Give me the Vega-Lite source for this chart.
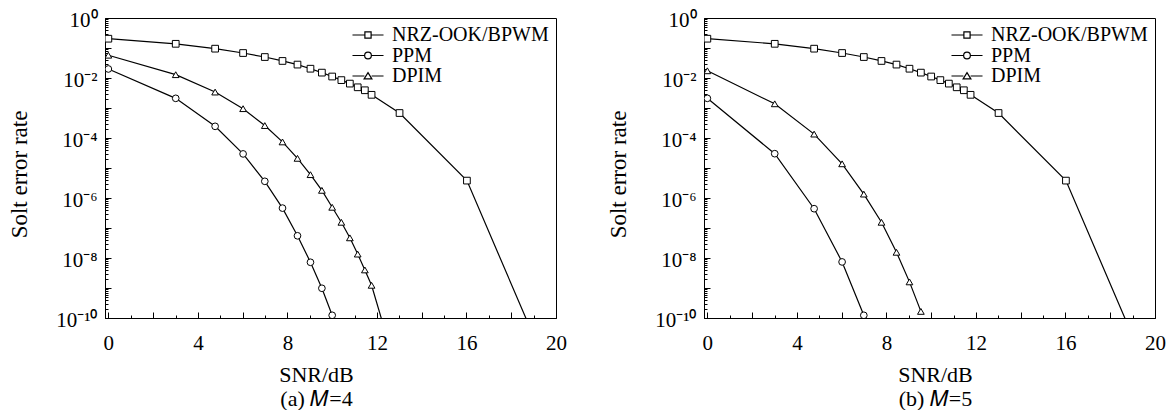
{
  "$schema": "https://vega.github.io/schema/vega-lite/v6.json",
  "padding": {"left": 7, "top": 8, "right": 0, "bottom": 0},
  "spacing": 39,
  "config": {
    "font": "Liberation Serif",
    "view": {"stroke": "black", "strokeWidth": 1},
    "axis": {
      "labelFont": "Liberation Serif", "titleFont": "Liberation Serif",
      "labelColor": "black", "titleColor": "black", "domainColor": "black",
      "tickColor": "black", "grid": false, "titleFontWeight": "normal",
      "labelFontSize": 21, "titleFontSize": 22, "labelOverlap": false, "labelBound": false,
      "labelFlush": false
    },
    "legend": {"labelFont": "Liberation Serif"}
  },
  "datasets": {
    "a": [
      {"s": "NRZ-OOK/BPWM", "x": 0, "y": 0.204},
      {"s": "NRZ-OOK/BPWM", "x": 3.01, "y": 0.138},
      {"s": "NRZ-OOK/BPWM", "x": 4.77, "y": 0.095},
      {"s": "NRZ-OOK/BPWM", "x": 6.02, "y": 0.068},
      {"s": "NRZ-OOK/BPWM", "x": 6.99, "y": 0.05},
      {"s": "NRZ-OOK/BPWM", "x": 7.78, "y": 0.037},
      {"s": "NRZ-OOK/BPWM", "x": 8.45, "y": 0.028},
      {"s": "NRZ-OOK/BPWM", "x": 9.03, "y": 0.0204},
      {"s": "NRZ-OOK/BPWM", "x": 9.54, "y": 0.0151},
      {"s": "NRZ-OOK/BPWM", "x": 10, "y": 0.0112},
      {"s": "NRZ-OOK/BPWM", "x": 10.41, "y": 0.0085},
      {"s": "NRZ-OOK/BPWM", "x": 10.79, "y": 0.0065},
      {"s": "NRZ-OOK/BPWM", "x": 11.14, "y": 0.0049},
      {"s": "NRZ-OOK/BPWM", "x": 11.46, "y": 0.0039},
      {"s": "NRZ-OOK/BPWM", "x": 11.76, "y": 0.00275},
      {"s": "NRZ-OOK/BPWM", "x": 13.01, "y": 0.00068},
      {"s": "NRZ-OOK/BPWM", "x": 16.02, "y": 3.8e-6},
      {"s": "NRZ-OOK/BPWM", "x": 19.03, "y": 2.2e-11},
      {"s": "PPM", "x": 0, "y": 0.02},
      {"s": "PPM", "x": 3.01, "y": 0.0021},
      {"s": "PPM", "x": 4.77, "y": 2.45e-4},
      {"s": "PPM", "x": 6.02, "y": 2.95e-5},
      {"s": "PPM", "x": 6.99, "y": 3.6e-6},
      {"s": "PPM", "x": 7.78, "y": 4.6e-7},
      {"s": "PPM", "x": 8.45, "y": 5.5e-8},
      {"s": "PPM", "x": 9.03, "y": 7.2e-9},
      {"s": "PPM", "x": 9.54, "y": 9.8e-10},
      {"s": "PPM", "x": 10, "y": 1.23e-10},
      {"s": "DPIM", "x": 0, "y": 0.0575},
      {"s": "DPIM", "x": 3.01, "y": 0.0129},
      {"s": "DPIM", "x": 4.77, "y": 0.0034},
      {"s": "DPIM", "x": 6.02, "y": 9.5e-4},
      {"s": "DPIM", "x": 6.99, "y": 2.6e-4},
      {"s": "DPIM", "x": 7.78, "y": 7.4e-5},
      {"s": "DPIM", "x": 8.45, "y": 2.1e-5},
      {"s": "DPIM", "x": 9.03, "y": 6.0e-6},
      {"s": "DPIM", "x": 9.54, "y": 1.8e-6},
      {"s": "DPIM", "x": 10, "y": 4.9e-7},
      {"s": "DPIM", "x": 10.41, "y": 1.55e-7},
      {"s": "DPIM", "x": 10.79, "y": 4.7e-8},
      {"s": "DPIM", "x": 11.14, "y": 1.35e-8},
      {"s": "DPIM", "x": 11.46, "y": 4.0e-9},
      {"s": "DPIM", "x": 11.76, "y": 1.23e-9},
      {"s": "DPIM", "x": 13.01, "y": 8.5e-13}
    ],
    "b": [
      {"s": "NRZ-OOK/BPWM", "x": 0, "y": 0.204},
      {"s": "NRZ-OOK/BPWM", "x": 3.01, "y": 0.138},
      {"s": "NRZ-OOK/BPWM", "x": 4.77, "y": 0.095},
      {"s": "NRZ-OOK/BPWM", "x": 6.02, "y": 0.068},
      {"s": "NRZ-OOK/BPWM", "x": 6.99, "y": 0.05},
      {"s": "NRZ-OOK/BPWM", "x": 7.78, "y": 0.037},
      {"s": "NRZ-OOK/BPWM", "x": 8.45, "y": 0.028},
      {"s": "NRZ-OOK/BPWM", "x": 9.03, "y": 0.0204},
      {"s": "NRZ-OOK/BPWM", "x": 9.54, "y": 0.0151},
      {"s": "NRZ-OOK/BPWM", "x": 10, "y": 0.0112},
      {"s": "NRZ-OOK/BPWM", "x": 10.41, "y": 0.0085},
      {"s": "NRZ-OOK/BPWM", "x": 10.79, "y": 0.0065},
      {"s": "NRZ-OOK/BPWM", "x": 11.14, "y": 0.0049},
      {"s": "NRZ-OOK/BPWM", "x": 11.46, "y": 0.0039},
      {"s": "NRZ-OOK/BPWM", "x": 11.76, "y": 0.00275},
      {"s": "NRZ-OOK/BPWM", "x": 13.01, "y": 0.00068},
      {"s": "NRZ-OOK/BPWM", "x": 16.02, "y": 3.8e-6},
      {"s": "NRZ-OOK/BPWM", "x": 19.03, "y": 2.2e-11},
      {"s": "PPM", "x": 0, "y": 0.0021},
      {"s": "PPM", "x": 3.01, "y": 3.0e-5},
      {"s": "PPM", "x": 4.77, "y": 4.4e-7},
      {"s": "PPM", "x": 6.02, "y": 7.4e-9},
      {"s": "PPM", "x": 6.99, "y": 1.23e-10},
      {"s": "DPIM", "x": 0, "y": 0.0174},
      {"s": "DPIM", "x": 3.01, "y": 0.00138},
      {"s": "DPIM", "x": 4.77, "y": 1.35e-4},
      {"s": "DPIM", "x": 6.02, "y": 1.38e-5},
      {"s": "DPIM", "x": 6.99, "y": 1.35e-6},
      {"s": "DPIM", "x": 7.78, "y": 1.55e-7},
      {"s": "DPIM", "x": 8.45, "y": 1.55e-8},
      {"s": "DPIM", "x": 9.03, "y": 1.6e-9},
      {"s": "DPIM", "x": 9.54, "y": 1.66e-10}
    ]
  },
  "hconcat": [
    {
      "width": 451, "height": 300,
      "data": {"name": "a"},
      "encoding": {
        "x": {"field": "x", "type": "quantitative",
          "scale": {"domain": [-0.15, 20], "nice": false, "zero": false},
          "axis": {
            "values": [0,1,2,3,4,5,6,7,8,9,10,11,12,13,14,15,16,17,18,19,20],
            "labelExpr": "datum.value % 4 == 0 ? datum.label : ''",
            "tickSize": {"condition": {"test": "datum.value % 2 == 0", "value": -6}, "value": -3},
            "labelPadding": 20, "minExtent": 30, "maxExtent": 30, "titlePadding": 16,
            "labelFontSize": 21, "titleFontSize": 22, "labelFlush": false,
            "title": ["SNR/dB", "(a) 𝑀=4"], "titleLineHeight": 24, "titleX": 211
          }
        },
        "y": {"field": "y", "type": "quantitative",
          "scale": {"type": "log", "domain": [1e-10, 1], "nice": false},
          "axis": {
            "values": [1,9e-1,8e-1,7e-1,6e-1,5e-1,4e-1,3e-1,2e-1,1e-1,9e-2,8e-2,7e-2,6e-2,5e-2,4e-2,3e-2,2e-2,1e-2,9e-3,8e-3,7e-3,6e-3,5e-3,4e-3,3e-3,2e-3,1e-3,9e-4,8e-4,7e-4,6e-4,5e-4,4e-4,3e-4,2e-4,1e-4,9e-5,8e-5,7e-5,6e-5,5e-5,4e-5,3e-5,2e-5,1e-5,9e-6,8e-6,7e-6,6e-6,5e-6,4e-6,3e-6,2e-6,1e-6,9e-7,8e-7,7e-7,6e-7,5e-7,4e-7,3e-7,2e-7,1e-7,9e-8,8e-8,7e-8,6e-8,5e-8,4e-8,3e-8,2e-8,1e-8,9e-9,8e-9,7e-9,6e-9,5e-9,4e-9,3e-9,2e-9,1e-9,9e-10,8e-10,7e-10,6e-10,5e-10,4e-10,3e-10,2e-10,1e-10],
            "labelExpr": "abs(log(datum.value)/LN10 - round(log(datum.value)/LN10)) > 0.01 ? '' : (round(log(datum.value)/LN10) == 0 ? '10⁰' : round(log(datum.value)/LN10) == -2 ? '10⁻²' : round(log(datum.value)/LN10) == -4 ? '10⁻⁴' : round(log(datum.value)/LN10) == -6 ? '10⁻⁶' : round(log(datum.value)/LN10) == -8 ? '10⁻⁸' : round(log(datum.value)/LN10) == -10 ? '10⁻¹⁰' : '')",
            "tickSize": {"condition": {"test": "abs(log(datum.value)/LN10 - round(log(datum.value)/LN10)) < 0.01", "value": -6}, "value": -3},
            "labelPadding": 14, "minExtent": 60, "maxExtent": 60, "titlePadding": 14,
            "labelFontSize": 21, "titleFontSize": 23, "labelOffset": 2, "titleY": 156,
            "title": "Solt error rate"
          }
        }
      },
      "layer": [
        {"mark": {"type": "line", "clip": true, "color": "black", "strokeWidth": 1.2},
         "encoding": {"detail": {"field": "s"}}},
        {"mark": {"type": "point", "clip": true, "filled": true, "fill": "white", "stroke": "black", "strokeWidth": 1, "size": 45, "opacity": 1},
         "encoding": {"shape": {"field": "s", "type": "nominal",
           "scale": {"domain": ["NRZ-OOK/BPWM", "PPM", "DPIM"], "range": ["square", "circle", "triangle-up"]},
           "legend": null}}},
        {"mark": {"type": "point", "clip": true, "opacity": 0, "size": 107},
         "encoding": {"shape": {"field": "s", "type": "nominal",
           "scale": {"domain": ["NRZ-OOK/BPWM", "PPM", "DPIM"], "range": [
             "M-3,0H-0.6M0.6,0H3M-0.6,-0.6H0.6V0.6H-0.6Z",
             "M-3,0H-0.65M0.65,0H3M0.65,0A0.65,0.65 0 1,1 -0.65,0A0.65,0.65 0 1,1 0.65,0Z",
             "M-3,0H-0.7M0.7,0H3M0,-0.65L0.75,0.55L-0.75,0.55Z"]},
           "legend": {"title": null, "orient": "top-right", "offset": 7, "padding": 0,
             "labelFont": "Liberation Serif", "labelFontSize": 20, "labelColor": "black",
             "labelLimit": 0,
             "symbolSize": 107, "symbolStrokeWidth": 1.2, "symbolStrokeColor": "black",
             "symbolFillColor": "white", "symbolOpacity": 1, "labelOffset": 14,
             "rowPadding": 0.5}}}}
      ],
      "resolve": {"scale": {"shape": "independent"}}
    },
    {
      "width": 451, "height": 300,
      "data": {"name": "b"},
      "encoding": {
        "x": {"field": "x", "type": "quantitative",
          "scale": {"domain": [-0.15, 20], "nice": false, "zero": false},
          "axis": {
            "values": [0,1,2,3,4,5,6,7,8,9,10,11,12,13,14,15,16,17,18,19,20],
            "labelExpr": "datum.value % 4 == 0 ? datum.label : ''",
            "tickSize": {"condition": {"test": "datum.value % 2 == 0", "value": -6}, "value": -3},
            "labelPadding": 20, "minExtent": 30, "maxExtent": 30, "titlePadding": 16,
            "labelFontSize": 21, "titleFontSize": 22, "labelFlush": false,
            "title": ["SNR/dB", "(b) 𝑀=5"], "titleLineHeight": 24, "titleX": 231
          }
        },
        "y": {"field": "y", "type": "quantitative",
          "scale": {"type": "log", "domain": [1e-10, 1], "nice": false},
          "axis": {
            "values": [1,9e-1,8e-1,7e-1,6e-1,5e-1,4e-1,3e-1,2e-1,1e-1,9e-2,8e-2,7e-2,6e-2,5e-2,4e-2,3e-2,2e-2,1e-2,9e-3,8e-3,7e-3,6e-3,5e-3,4e-3,3e-3,2e-3,1e-3,9e-4,8e-4,7e-4,6e-4,5e-4,4e-4,3e-4,2e-4,1e-4,9e-5,8e-5,7e-5,6e-5,5e-5,4e-5,3e-5,2e-5,1e-5,9e-6,8e-6,7e-6,6e-6,5e-6,4e-6,3e-6,2e-6,1e-6,9e-7,8e-7,7e-7,6e-7,5e-7,4e-7,3e-7,2e-7,1e-7,9e-8,8e-8,7e-8,6e-8,5e-8,4e-8,3e-8,2e-8,1e-8,9e-9,8e-9,7e-9,6e-9,5e-9,4e-9,3e-9,2e-9,1e-9,9e-10,8e-10,7e-10,6e-10,5e-10,4e-10,3e-10,2e-10,1e-10],
            "labelExpr": "abs(log(datum.value)/LN10 - round(log(datum.value)/LN10)) > 0.01 ? '' : (round(log(datum.value)/LN10) == 0 ? '10⁰' : round(log(datum.value)/LN10) == -2 ? '10⁻²' : round(log(datum.value)/LN10) == -4 ? '10⁻⁴' : round(log(datum.value)/LN10) == -6 ? '10⁻⁶' : round(log(datum.value)/LN10) == -8 ? '10⁻⁸' : round(log(datum.value)/LN10) == -10 ? '10⁻¹⁰' : '')",
            "tickSize": {"condition": {"test": "abs(log(datum.value)/LN10 - round(log(datum.value)/LN10)) < 0.01", "value": -6}, "value": -3},
            "labelPadding": 14, "minExtent": 60, "maxExtent": 60, "titlePadding": 14,
            "labelFontSize": 21, "titleFontSize": 23, "labelOffset": 2, "titleY": 156,
            "title": "Solt error rate"
          }
        }
      },
      "layer": [
        {"mark": {"type": "line", "clip": true, "color": "black", "strokeWidth": 1.2},
         "encoding": {"detail": {"field": "s"}}},
        {"mark": {"type": "point", "clip": true, "filled": true, "fill": "white", "stroke": "black", "strokeWidth": 1, "size": 45, "opacity": 1},
         "encoding": {"shape": {"field": "s", "type": "nominal",
           "scale": {"domain": ["NRZ-OOK/BPWM", "PPM", "DPIM"], "range": ["square", "circle", "triangle-up"]},
           "legend": null}}},
        {"mark": {"type": "point", "clip": true, "opacity": 0, "size": 107},
         "encoding": {"shape": {"field": "s", "type": "nominal",
           "scale": {"domain": ["NRZ-OOK/BPWM", "PPM", "DPIM"], "range": [
             "M-3,0H-0.6M0.6,0H3M-0.6,-0.6H0.6V0.6H-0.6Z",
             "M-3,0H-0.65M0.65,0H3M0.65,0A0.65,0.65 0 1,1 -0.65,0A0.65,0.65 0 1,1 0.65,0Z",
             "M-3,0H-0.7M0.7,0H3M0,-0.65L0.75,0.55L-0.75,0.55Z"]},
           "legend": {"title": null, "orient": "top-right", "offset": 7, "padding": 0,
             "labelFont": "Liberation Serif", "labelFontSize": 20, "labelColor": "black",
             "labelLimit": 0,
             "symbolSize": 107, "symbolStrokeWidth": 1.2, "symbolStrokeColor": "black",
             "symbolFillColor": "white", "symbolOpacity": 1, "labelOffset": 14,
             "rowPadding": 0.5}}}}
      ],
      "resolve": {"scale": {"shape": "independent"}}
    }
  ]
}
